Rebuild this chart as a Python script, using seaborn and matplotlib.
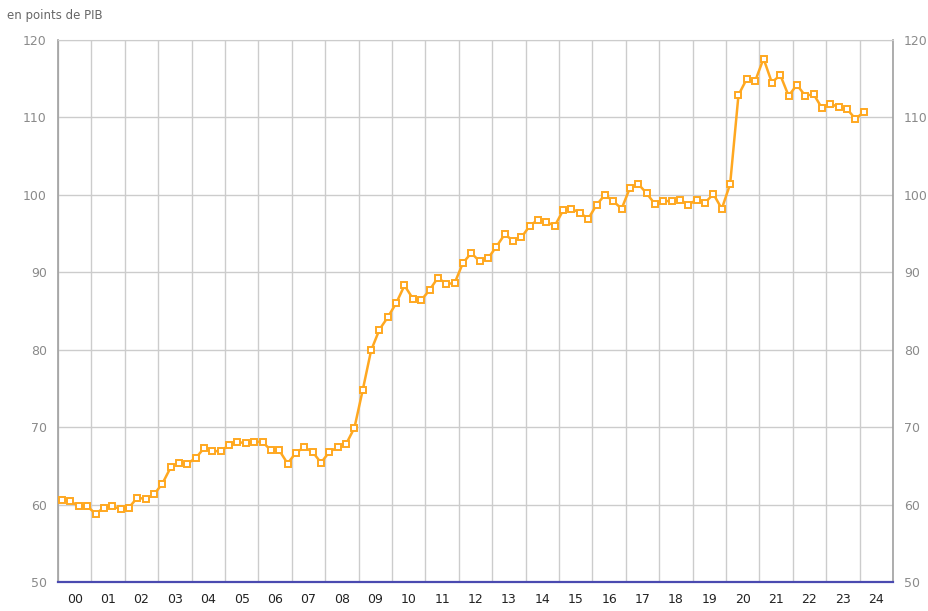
import numpy as np
import pandas as pd
import seaborn as sns
from matplotlib import pyplot as plt

# dette en points de PIB, trimestriel 2000T1 -> 2024T1
years = [f"{y:02d}" for y in range(0, 25)]
quarters = ["T1", "T2", "T3", "T4"]
values = [
    60.6, 60.4, 59.8, 59.8,      # 2000
    58.8, 59.6, 59.8, 59.4,      # 2001
    59.6, 60.9, 60.7, 61.3,      # 2002
    62.7, 64.8, 65.4, 65.3,      # 2003
    66.0, 67.3, 66.9, 66.9,      # 2004
    67.7, 68.1, 67.9, 68.1,      # 2005
    68.1, 67.0, 67.0, 65.3,      # 2006
    66.7, 67.4, 66.8, 65.4,      # 2007
    66.8, 67.4, 67.8, 69.9,      # 2008
    74.8, 79.9, 82.6, 84.2,      # 2009
    86.0, 88.3, 86.6, 86.4,      # 2010
    87.7, 89.3, 88.5, 88.6,      # 2011
    91.2, 92.5, 91.4, 91.8,      # 2012
    93.3, 94.9, 94.1, 94.5,      # 2013
    96.0, 96.8, 96.5, 96.0,      # 2014
    98.0, 98.2, 97.7, 96.9,      # 2015
    98.7, 100.0, 99.2, 98.2,     # 2016
    100.9, 101.4, 100.2, 98.8,   # 2017
    99.2, 99.2, 99.4, 98.7,      # 2018
    99.4, 99.0, 100.1, 98.2,     # 2019
    101.4, 112.9, 115.0, 114.7,  # 2020
    117.6, 114.5, 115.5, 112.8,  # 2021
    114.2, 112.8, 113.0, 111.2,  # 2022
    111.8, 111.3, 111.1, 109.8,  # 2023
    110.7,                       # 2024
]

df = pd.DataFrame({"dette": values})
df["t"] = (np.arange(len(df)) + 0.5) / 4  # centre du trimestre, en annees depuis 2000

sns.set_style("white")
plt.rcParams["font.family"] = ["DejaVu Sans"]

fig = plt.figure(figsize=(9.29, 6.11), dpi=100)
ax = fig.add_axes([0.0624, 0.0475, 0.8988, 0.887])

orange = "#ffa820"
sns.lineplot(data=df, x="t", y="dette", ax=ax, color=orange, linewidth=1.8,
             marker="s", markersize=4.3, markerfacecolor="white",
             markeredgecolor=orange, markeredgewidth=1.4, zorder=3)

ax.set_xlim(0, len(years))
ax.set_ylim(50, 120)
ax.set_yticks(range(50, 121, 10))

# lignes verticales aux limites d'annees, libelles au centre
ax.set_xticks(range(0, len(years) + 1))
ax.set_xticklabels([])
ax.set_xticks(np.arange(len(years)) + 0.5, minor=True)
ax.set_xticklabels(years, minor=True)
ax.tick_params(axis="x", which="major", length=29, color="#d0d0d0", width=1.1)
ax.tick_params(axis="x", which="minor", length=0, pad=8, labelsize=9, labelcolor="#222222")
ax.grid(True, axis="both", which="major", color="#cccccc", linewidth=1.0)

ax.tick_params(axis="y", length=0, labelsize=9, labelcolor="#8a8a8a", pad=8,
               right=True, labelright=True)

for side in ["left", "right"]:
    ax.spines[side].set_color("#a0a0a0")
    ax.spines[side].set_linewidth(1.2)
ax.spines["top"].set_color("#cccccc")
ax.spines["bottom"].set_color("#4a4ab0")
ax.spines["bottom"].set_linewidth(1.6)
ax.spines["bottom"].set_zorder(4)

ax.set_xlabel(None)
ax.set_ylabel(None)
fig.text(0.008, 0.975, "en points de PIB", fontsize=8.5, color="#666666", va="center")

plt.savefig("out.png", dpi=100)
